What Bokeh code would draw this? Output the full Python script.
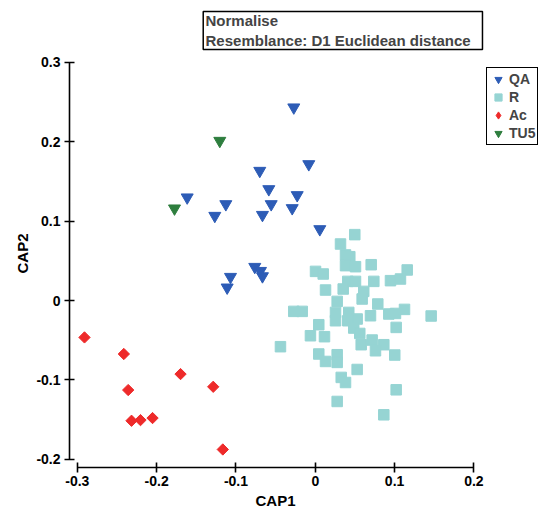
import math
from bokeh.plotting import figure
from bokeh.models import FixedTicker, Range1d, Label, BoxAnnotation, Legend, LegendItem, Title
from bokeh.embed import file_html
from bokeh.resources import INLINE

# ---------------- data ----------------
qa_x = [-0.0271, -0.0082, -0.0700, -0.0586, -0.0228, -0.1615, -0.1128, -0.0556,
        -0.1267, -0.0666, -0.0291, 0.0057, -0.0763, -0.0691, -0.0666, -0.1069, -0.1111]
qa_y = [0.2433, 0.1718, 0.1634, 0.1403, 0.1328, 0.1299, 0.1214, 0.1214,
        0.1067, 0.1079, 0.1164, 0.0899, 0.0424, 0.0373, 0.0306, 0.0298, 0.0164]

r_x = [0.0498, 0.0318, 0.0381, 0.0435, 0.0705, 0.0381, 0.0507, 0.1159, 0.0003, 0.0100,
       0.0738, 0.0948, 0.1074, 0.0410, 0.0507, 0.0352, 0.0129, 0.0611, 0.0591, 0.0276,
       0.0788, -0.0271, -0.0165, 0.0255, 0.0422, 0.0696, 0.0927, 0.1011, 0.1125, 0.1461,
       0.0255, 0.0528, 0.0044, 0.0410, 0.1020, 0.0485, 0.0561, -0.0061, 0.0116, -0.0439,
       0.0717, 0.0579, 0.0864, 0.0759, 0.0044, 0.0276, 0.1002, 0.0129, 0.0276, 0.0528,
       0.0327, 0.0381, 0.1020, 0.0276, 0.0864]
r_y = [0.0830, 0.0712, 0.0574, 0.0552, 0.0451, 0.0439, 0.0426, 0.0385, 0.0367, 0.0334,
       0.0241, 0.0250, 0.0271, 0.0241, 0.0241, 0.0145, 0.0132, 0.0115, 0.0019, -0.0011,
       -0.0044, -0.0137, -0.0137, -0.0150, -0.0150, -0.0192, -0.0170, -0.0163, -0.0112, -0.0195,
       -0.0255, -0.0233, -0.0305, -0.0255, -0.0339, -0.0347, -0.0415, -0.0444, -0.0456, -0.0582,
       -0.0498, -0.0557, -0.0557, -0.0633, -0.0674, -0.0683, -0.0687, -0.0768, -0.0780, -0.0869,
       -0.0969, -0.1033, -0.1125, -0.1272, -0.1440]

ac_x = [-0.2910, -0.2414, -0.1699, -0.1287, -0.2359, -0.2317, -0.2204, -0.2052, -0.1166]
ac_y = [-0.0465, -0.0674, -0.0927, -0.1087, -0.1128, -0.1515, -0.1507, -0.1481, -0.1877]

tu_x = [-0.1204, -0.1775]
tu_y = [0.2012, 0.1160]

groups = ["QA", "R", "Ac", "TU5"]
x_ticks = [-0.3, -0.2, -0.1, 0, 0.1, 0.2]
x_tick_labels = ["-0.3", "-0.2", "-0.1", "0", "0.1", "0.2"]
y_ticks = [-0.2, -0.1, 0, 0.1, 0.2, 0.3]
y_tick_labels = ["-0.2", "-0.1", "0", "0.1", "0.2", "0.3"]
x_title = "CAP1"
y_title = "CAP2"
info_lines = ["Normalise", "Resemblance: D1 Euclidean distance"]

# ---------------- styles ----------------
FONT = "Liberation Sans"
QA_C = "#2D5CB6"
R_C = "#96D4D3"
AC_C = "#EE2A2A"
TU_C = "#2E7E3E"

p = figure(width=539, height=511, output_backend="svg", toolbar_location=None,
           x_range=Range1d(-0.3099, 0.2827), y_range=Range1d(-0.2104, 0.3780),
           min_border_left=69, min_border_right=0, min_border_top=0, min_border_bottom=44)
p.grid.visible = False
p.outline_line_color = None
p.background_fill_color = "white"

r_r = p.scatter(r_x, r_y, marker="square", size=10.5, color=R_C)
r_qa = p.scatter(qa_x, qa_y, marker="inverted_triangle", size=12, color=QA_C)
r_ac = p.scatter(ac_x, ac_y, marker="square", angle=math.pi / 4, size=8, color=AC_C)
r_tu = p.scatter(tu_x, tu_y, marker="inverted_triangle", size=12, color=TU_C)
# legend-only glyph for the diamond symbol (legend glyphs ignore marker angle); NaN -> not drawn
r_ac_leg = p.scatter(x=[float("nan")], y=[float("nan")], marker="diamond", color=AC_C)

for ax, ticks, labels in ((p.xaxis[0], x_ticks, x_tick_labels), (p.yaxis[0], y_ticks, y_tick_labels)):
    ax.ticker = FixedTicker(ticks=ticks)
    ax.major_label_overrides = dict(zip(ticks, labels))
    ax.bounds = (ticks[0], ticks[-1])
    ax.axis_line_width = 1.6
    ax.major_tick_line_width = 1.6
    ax.major_tick_in = 5
    ax.major_tick_out = 5
    ax.minor_tick_line_color = None
    ax.major_label_text_font = FONT
    ax.major_label_text_font_style = "bold"
    ax.major_label_text_font_size = "14px"
    ax.major_label_text_color = "black"
    ax.axis_line_color = "black"
    ax.major_tick_line_color = "black"
p.xaxis.major_label_standoff = 3
p.yaxis.major_label_standoff = 4

# axis titles (side titles, offset so they are centred on the ticked span)
p.add_layout(Title(text=x_title, align="left", offset=186, standoff=2, text_color="black",
                   text_font=FONT, text_font_style="bold", text_font_size="15px"), "below")
p.add_layout(Title(text=y_title, align="left", offset=194, standoff=5, text_color="black",
                   text_font=FONT, text_font_style="bold", text_font_size="15px"), "left")

# info box
p.add_layout(BoxAnnotation(left=-0.1413, right=0.2108, top=0.3641, bottom=0.3162,
                           fill_alpha=0, line_color="black", line_alpha=1, line_width=1.5))
for yy, txt in zip([0.3527, 0.3275], info_lines):
    p.add_layout(Label(x=-0.1384, y=yy, text=txt, text_align="left", text_baseline="middle",
                       text_font=FONT, text_font_style="bold", text_font_size="15px"))

legend = Legend(items=[LegendItem(label=g, renderers=[r]) for g, r in zip(groups, [r_qa, r_r, r_ac_leg, r_tu])],
                location=(417, 322), padding=2, spacing=0, margin=0,
                glyph_width=18, glyph_height=18, label_height=18, label_standoff=2,
                border_line_color="black", border_line_width=1.5, border_line_alpha=1,
                background_fill_color="white", background_fill_alpha=1,
                label_text_font=FONT, label_text_font_style="bold", label_text_font_size="14px")
p.add_layout(legend)

open("out.html", "w").write(file_html(p, INLINE))
